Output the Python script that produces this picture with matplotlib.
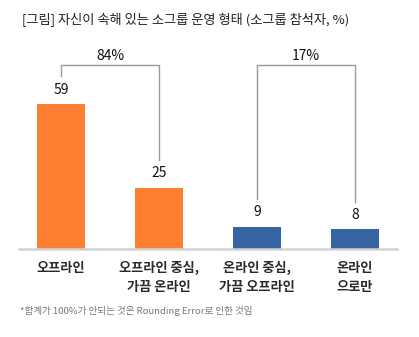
import matplotlib
matplotlib.use("Agg")
import matplotlib.pyplot as plt

plt.rcParams['font.family'] = ['Noto Sans CJK KR', 'DejaVu Sans']

title = "[그림] 자신이 속해 있는 소그룹 운영 형태 (소그룹 참석자, %)"
categories = ["오프라인", "오프라인 중심,\n가끔 온라인", "온라인 중심,\n가끔 오프라인", "온라인\n으로만"]
values = [59, 25, 9, 8]
group_totals = ["84%", "17%"]
footnote = "*합계가 100%가 안되는 것은 Rounding Error로 인한 것임"

ORANGE = "#FF7F32"
BLUE = "#3764A2"
colors = [ORANGE, ORANGE, BLUE, BLUE]

W, H = 419, 337
fig = plt.figure(figsize=(W / 100, H / 100), dpi=100)

# axes placed in pixel units
ax_left, ax_bottom, ax_w, ax_h = 19, 88, 378, 209
ax = fig.add_axes([ax_left / W, ax_bottom / H, ax_w / W, ax_h / H])
ax.set_xlim(-0.43, 3.43)
ax.set_ylim(0, 85)

x = list(range(len(values)))
ax.bar(x, values, width=0.49, color=colors, zorder=2)

for xi, v in zip(x, values):
    ax.text(xi, v + 3.0, str(v), ha="center", va="bottom", fontsize=10, color="#111111")

# brackets joining the paired bars
top = 74.8
for (a, b), label in zip([(0, 1), (2, 3)], group_totals):
    ax.plot([a, a, b, b], [values[a] + 11.3, top, top, values[b] + 11.3],
            color="#9a9a9a", lw=1.0, solid_joinstyle="miter", clip_on=False)
    ax.text((a + b) / 2, top + 1.0, label, ha="center", va="bottom",
            fontsize=10, color="#111111")

for s in ["top", "right", "left"]:
    ax.spines[s].set_visible(False)
ax.spines["bottom"].set_color("#d3d3d3")
ax.spines["bottom"].set_linewidth(1.8)
ax.set_yticks([])
ax.set_xticks(x)
ax.set_xticklabels(categories, fontsize=9.5, fontweight="bold", color="#2a2a2a",
                   linespacing=1.5)
ax.tick_params(axis="x", length=0, pad=8.5)

fig.text(22 / W, 1 - 20 / H, title, ha="left", va="center", fontsize=9.5, color="#222222")
fig.text(20 / W, 1 - 311 / H, footnote, ha="left", va="center", fontsize=6.9, color="#777777")

fig.savefig("out.png", dpi=100)
